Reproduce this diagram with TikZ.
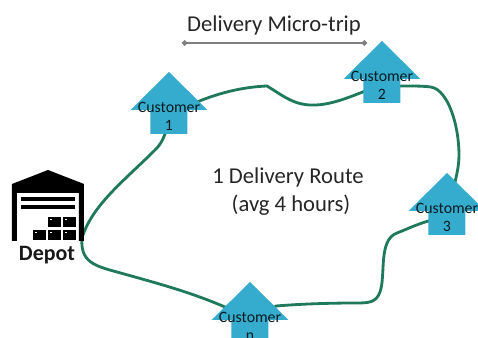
\documentclass[tikz,border=0pt]{standalone}
\usepackage{fontspec}
\setmainfont{Carlito}
\usetikzlibrary{arrows.meta,backgrounds}
\definecolor{custblue}{HTML}{35ACCE}
\definecolor{routegreen}{HTML}{1F7A5C}
\definecolor{tripgrey}{HTML}{7F7F7F}
\definecolor{inktext}{HTML}{262626}
\tikzset{
	custtext/.style={text=black!85!custblue, font=\fontsize{9}{10.3}\selectfont, align=center, inner sep=0pt},
	bigtext/.style={text=inktext, font=\fontsize{12.9}{15}\selectfont, inner sep=0pt},
	route/.style={draw=routegreen, line width=1.6pt},
	triptick/.style={draw=tripgrey, line width=1pt, {Circle[length=3pt]}-{Circle[length=3pt]}}
}
% name, apex x, apex y, second line
\newcommand{\customer}[4]{
	\fill[custblue] (#2,#3) -- ++(38.5,38) -- ++(-20,0) -- ++(0,24) -- ++(-37,0) -- ++(0,-24) -- ++(-20,0) -- cycle;
	\node[custtext] (#1) at (#2,#3+44) {Customer\\#4};
}
\begin{document}
\begin{tikzpicture}[x=0.02cm,y=-0.02cm]
			\clip (0,0) rectangle (478,338);
			% customers
			\customer{c1}{169}{72}{1}
			\customer{c2}{382}{41}{2}
			\customer{c3}{447}{173}{3}
			\customer{cn}{250}{282}{n}
			\coordinate (depot) at (82,238);
			% route behind the customers
			\begin{scope}[on background layer]
			\draw[route] (depot) .. controls (92,205) and (125,180) .. (155,150)
				.. controls (160,145) and (166,138) .. (c1.center);
			\draw[route] (c1.center) .. controls (205,95) and (240,87) .. (267,86)
				.. controls (285,97) and (295,106) .. (316,105)
				.. controls (338,104) and (360,92) .. (c2.center);
			\draw[route] (c2.center) .. controls (400,87) and (415,85) .. (431,87)
				.. controls (448,90) and (459,125) .. (459,155)
				.. controls (459,170) and (455,180) .. (c3.center);
			\draw[route] (c3.center) .. controls (425,220) and (410,228) .. (397,233)
				.. controls (378,240) and (386,275) .. (380,292)
				.. controls (376,303) and (368,303) .. (355,303)
				.. controls (330,303) and (300,304) .. (276,306)
				-- (cn.center);
			\draw[route] (cn.center) -- (225,307) .. controls (190,292) and (160,284) .. (117,272)
				.. controls (95,266) and (80,262) .. (depot);
			\end{scope}
			% depot icon
			\fill[black] (12,241) -- (12,184) -- (48,170) -- (84,184) -- (84,241) -- (79,241) -- (79,193) -- (17,193) -- (17,241) -- cycle;
			\fill (21,197) rectangle (75,201);
			\fill (21,205) rectangle (75,209);
			\foreach \bx/\by in {48/217,63/217,33/230,48/230,63/230}{
				\fill (\bx,\by) rectangle ++(13,10.5);
				\fill[white] (\bx+2,\by+2) rectangle ++(2,1.5);
			}
			\node[font=\fontsize{12.5}{15}\selectfont\bfseries, text=black!90, inner sep=0pt] (depotname) at (47,255) {Depot};
			% labels
			\node[bigtext] (route1) at (288,177) {1 Delivery Route};
			\node[bigtext] (route2) at (291,205) {(avg 4 hours)};
			\node[bigtext] (triptext) at (274,25) {Delivery Micro-trip};
			\coordinate (tripa) at (182,43);
			\coordinate (tripb) at (367,43);
			\draw[triptick] (tripa) -- (tripb);
\end{tikzpicture}
\end{document}
